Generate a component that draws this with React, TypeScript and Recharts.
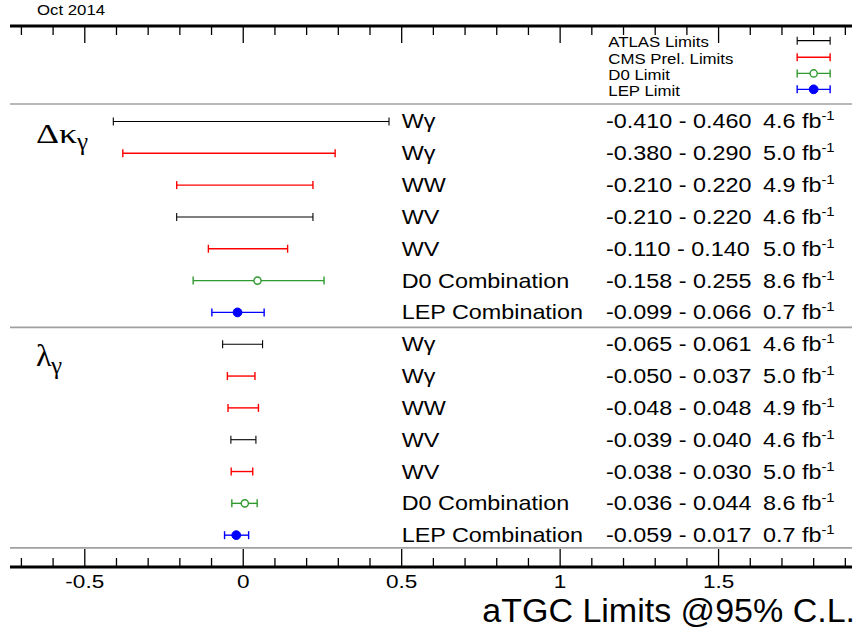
import React from 'react';
import { ComposedChart, Scatter, XAxis, YAxis, ErrorBar, ReferenceLine } from 'recharts';

// ---------- data ----------
const rowLabels = ['Wγ', 'Wγ', 'WW', 'WV', 'WV', 'D0 Combination', 'LEP Combination'];
const experiments = ['ATLAS', 'CMS', 'CMS', 'ATLAS', 'CMS', 'D0', 'LEP'];
const luminosity = ['4.6', '5.0', '4.9', '4.6', '5.0', '8.6', '0.7'];

const kappaLow = [-0.41, -0.38, -0.21, -0.21, -0.11, -0.158, -0.099];
const kappaHigh = [0.46, 0.29, 0.22, 0.22, 0.14, 0.255, 0.066];
const kappaCentral: (number | null)[] = [null, null, null, null, null, 0.045, -0.018];

const lambdaLow = [-0.065, -0.05, -0.048, -0.039, -0.038, -0.036, -0.059];
const lambdaHigh = [0.061, 0.037, 0.048, 0.04, 0.03, 0.044, 0.017];
const lambdaCentral: (number | null)[] = [null, null, null, null, null, 0.005, -0.022];

const legendLabels = ['ATLAS Limits', 'CMS Prel. Limits', 'D0 Limit', 'LEP Limit'];
const legendExperiments = ['ATLAS', 'CMS', 'D0', 'LEP'];

const xTicks = [-0.7, -0.6, -0.5, -0.4, -0.3, -0.2, -0.1, 0, 0.1, 0.2, 0.3, 0.4, 0.5, 0.6, 0.7, 0.8, 0.9, 1, 1.1, 1.2, 1.3, 1.4, 1.5, 1.6, 1.7, 1.8, 1.9];
const xMajorLabels = ['-0.5', '0', '0.5', '1', '1.5'];

// ---------- layout / style ----------
const W = 857;
const H = 630;
const X_DOMAIN: [number, number] = [-0.736, 1.921];
const Y_DOMAIN: [number, number] = [0, 17];
const KAPPA_FIRST = 3;
const LAMBDA_FIRST = 10;
const SEPARATORS = [2.45, 9.47, 16.4];
const LEGEND_ROWS = [0.46, 0.98, 1.49, 1.99];
const LEGEND_X = 1.8;
const LEGEND_HALF = 0.052;
const LABEL_X = 0.5;
const RANGE_X = 1.145;
const LUMI_X = 1.64;
const LEGEND_TEXT_X = 1.152;

const SANS = '"Liberation Sans", Arial, Helvetica, sans-serif';
const SERIF = '"Liberation Serif", "Times New Roman", serif';

const COLORS: Record<string, string> = {
  ATLAS: '#000000',
  CMS: '#ff0000',
  D0: '#2f9a2f',
  LEP: '#0000ff',
};

const fmt = (v: number) => v.toFixed(3);

type Row = {
  x: number;
  y: number;
  err: [number, number];
  exp: string;
  label: string;
  range: string;
  lumi: string;
};

const buildRows = (lo: number[], hi: number[], central: (number | null)[], first: number): Row[] =>
  lo.map((l, i) => {
    const c = central[i] ?? (l + hi[i]) / 2;
    return {
      x: c,
      y: first + i,
      err: [c - l, hi[i] - c],
      exp: experiments[i],
      label: rowLabels[i],
      range: `${fmt(l)} - ${fmt(hi[i])}`,
      lumi: luminosity[i],
    };
  });

const allRows = [
  ...buildRows(kappaLow, kappaHigh, kappaCentral, KAPPA_FIRST),
  ...buildRows(lambdaLow, lambdaHigh, lambdaCentral, LAMBDA_FIRST),
];

const legendRows = legendExperiments.map((e, i) => ({
  x: LEGEND_X,
  y: LEGEND_ROWS[i],
  err: [LEGEND_HALF, LEGEND_HALF] as [number, number],
  exp: e,
  text: legendLabels[i],
}));

const seriesData = (exp: string) => [
  ...allRows.filter((r) => r.exp === exp),
  ...legendRows.filter((r) => r.exp === exp),
];

const labelPoints = allRows.map((r) => ({ x: LABEL_X, y: r.y, text: r.label }));
const rangePoints = allRows.map((r) => ({ x: RANGE_X, y: r.y, text: r.range }));
const lumiPoints = allRows.map((r) => ({ x: LUMI_X, y: r.y, text: r.lumi }));
const legendTextPoints = legendRows.map((r) => ({ x: LEGEND_TEXT_X, y: r.y, text: r.text }));

// ---------- helpers ----------
const T = ({ x, y, size, sx = 1, family = SANS, anchor = 'start', children }: any) => (
  <text
    transform={`translate(${x},${y}) scale(${sx},1)`}
    fontSize={size}
    fontFamily={family}
    textAnchor={anchor}
    fill="#000"
  >
    {children}
  </text>
);

const ROW_FONT = 20.5;
const ROW_SX = 1.14;

const RowText = (props: any) => {
  const { cx, cy, payload } = props;
  if (cx == null || cy == null) return <g />;
  return (
    <T x={cx} y={cy + 7} size={ROW_FONT} sx={ROW_SX}>
      {payload.text}
    </T>
  );
};

const LumiText = (props: any) => {
  const { cx, cy, payload } = props;
  if (cx == null || cy == null) return <g />;
  return (
    <T x={cx} y={cy + 7} size={ROW_FONT} sx={ROW_SX}>
      {payload.text} fb
      <tspan fontSize={13} dy={-8}>-1</tspan>
    </T>
  );
};

const LegendText = (props: any) => {
  const { cx, cy, payload } = props;
  if (cx == null || cy == null) return <g />;
  return (
    <T x={cx} y={cy + 6.5} size={14.5} sx={1.16}>
      {payload.text}
    </T>
  );
};

const NoMarker = () => <g />;
const OpenCircle = (props: any) => {
  const { cx, cy } = props;
  if (cx == null) return <g />;
  return <circle cx={cx} cy={cy} r={3.6} fill="#fff" stroke={COLORS.D0} strokeWidth={1.4} />;
};
const FullCircle = (props: any) => {
  const { cx, cy } = props;
  if (cx == null) return <g />;
  return <circle cx={cx} cy={cy} r={4.4} fill={COLORS.LEP} stroke={COLORS.LEP} />;
};

const isMajor = (v: number) => Math.abs(v * 2 - Math.round(v * 2)) < 1e-6;
const majorLabel = (v: number) => {
  const k = Math.round(v * 2) + 1; // -0.5 -> 0
  return xMajorLabels[k] ?? '';
};

const BottomTick = (props: any) => {
  const { x, y, payload } = props;
  const v = payload.value as number;
  const major = isMajor(v);
  return (
    <g>
      <line x1={x} x2={x} y1={y} y2={y - (major ? 18 : 9)} stroke="#000" strokeWidth={1.3} />
      {major && (
        <T x={x} y={y + 21} size={18.5} sx={1.22} anchor="middle">
          {majorLabel(v)}
        </T>
      )}
    </g>
  );
};

const TopTick = (props: any) => {
  const { x, y, payload } = props;
  const major = isMajor(payload.value as number);
  return <line x1={x} x2={x} y1={y} y2={y + (major ? 17 : 9)} stroke="#000" strokeWidth={1.3} />;
};

const SERIES = ['ATLAS', 'CMS', 'D0', 'LEP'];
const shapeFor = (exp: string) => (exp === 'D0' ? OpenCircle : exp === 'LEP' ? FullCircle : NoMarker);

export default function App() {
  return (
    <div style={{ position: 'absolute', left: 0, top: 0, width: W, height: H, background: '#fff' }}>
      <ComposedChart width={W} height={H} margin={{ top: 0, right: 5, bottom: 0, left: 10 }}>
        <XAxis
          type="number"
          dataKey="x"
          domain={X_DOMAIN}
          allowDataOverflow
          ticks={xTicks}
          interval={0}
          height={63}
          tickSize={0}
          tickMargin={0}
          tickLine={false}
          tick={BottomTick}
          axisLine={{ stroke: '#000', strokeWidth: 3 }}
        />
        <XAxis
          xAxisId="top"
          orientation="top"
          type="number"
          dataKey="x"
          domain={X_DOMAIN}
          allowDataOverflow
          ticks={xTicks}
          interval={0}
          height={26}
          tickSize={0}
          tickMargin={0}
          tickLine={false}
          tick={TopTick}
          axisLine={{ stroke: '#000', strokeWidth: 3 }}
        />
        <YAxis
          type="number"
          dataKey="y"
          domain={Y_DOMAIN}
          allowDataOverflow
          reversed
          width={0}
          tick={false}
          tickLine={false}
          axisLine={{ stroke: '#000', strokeWidth: 3 }}
        />
        <YAxis
          yAxisId="right"
          orientation="right"
          type="number"
          dataKey="y"
          domain={Y_DOMAIN}
          allowDataOverflow
          reversed
          width={0}
          tick={false}
          tickLine={false}
          axisLine={{ stroke: '#000', strokeWidth: 3 }}
        />
        {SEPARATORS.map((s) => (
          <ReferenceLine key={s} y={s} stroke="#a0a0a0" strokeWidth={1.6} />
        ))}
        {SERIES.map((exp) => (
          <Scatter
            key={exp}
            name={exp}
            data={seriesData(exp)}
            shape={shapeFor(exp)}
            isAnimationActive={false}
          >
            <ErrorBar
              dataKey="err"
              direction="x"
              width={4}
              stroke={COLORS[exp]}
              strokeWidth={exp === 'ATLAS' ? 1.1 : 1.4}
              isAnimationActive={false}
            />
          </Scatter>
        ))}
        <Scatter name="labels" data={labelPoints} shape={RowText} isAnimationActive={false} />
        <Scatter name="ranges" data={rangePoints} shape={RowText} isAnimationActive={false} />
        <Scatter name="lumi" data={lumiPoints} shape={LumiText} isAnimationActive={false} />
        <Scatter name="legendText" data={legendTextPoints} shape={LegendText} isAnimationActive={false} />
      </ComposedChart>
      <svg
        width={W}
        height={H}
        style={{ position: 'absolute', left: 0, top: 0, pointerEvents: 'none' }}
      >
        <T x={37} y={15} size={14} sx={1.2}>Oct 2014</T>
        <T x={855} y={622} size={34} anchor="end">aTGC Limits @95% C.L.</T>
        <text transform="translate(36,143) scale(1.33,1)" fontFamily={SERIF} fontSize={27} fill="#000">
          Δκ
        </text>
        <text x={77} y={150} fontFamily={SERIF} fontSize={25} fill="#000">γ</text>
        <text x={36} y={366} fontFamily={SERIF} fontSize={32} fill="#000">λ</text>
        <text x={51} y={374} fontFamily={SERIF} fontSize={25} fill="#000">γ</text>
      </svg>
    </div>
  );
}
